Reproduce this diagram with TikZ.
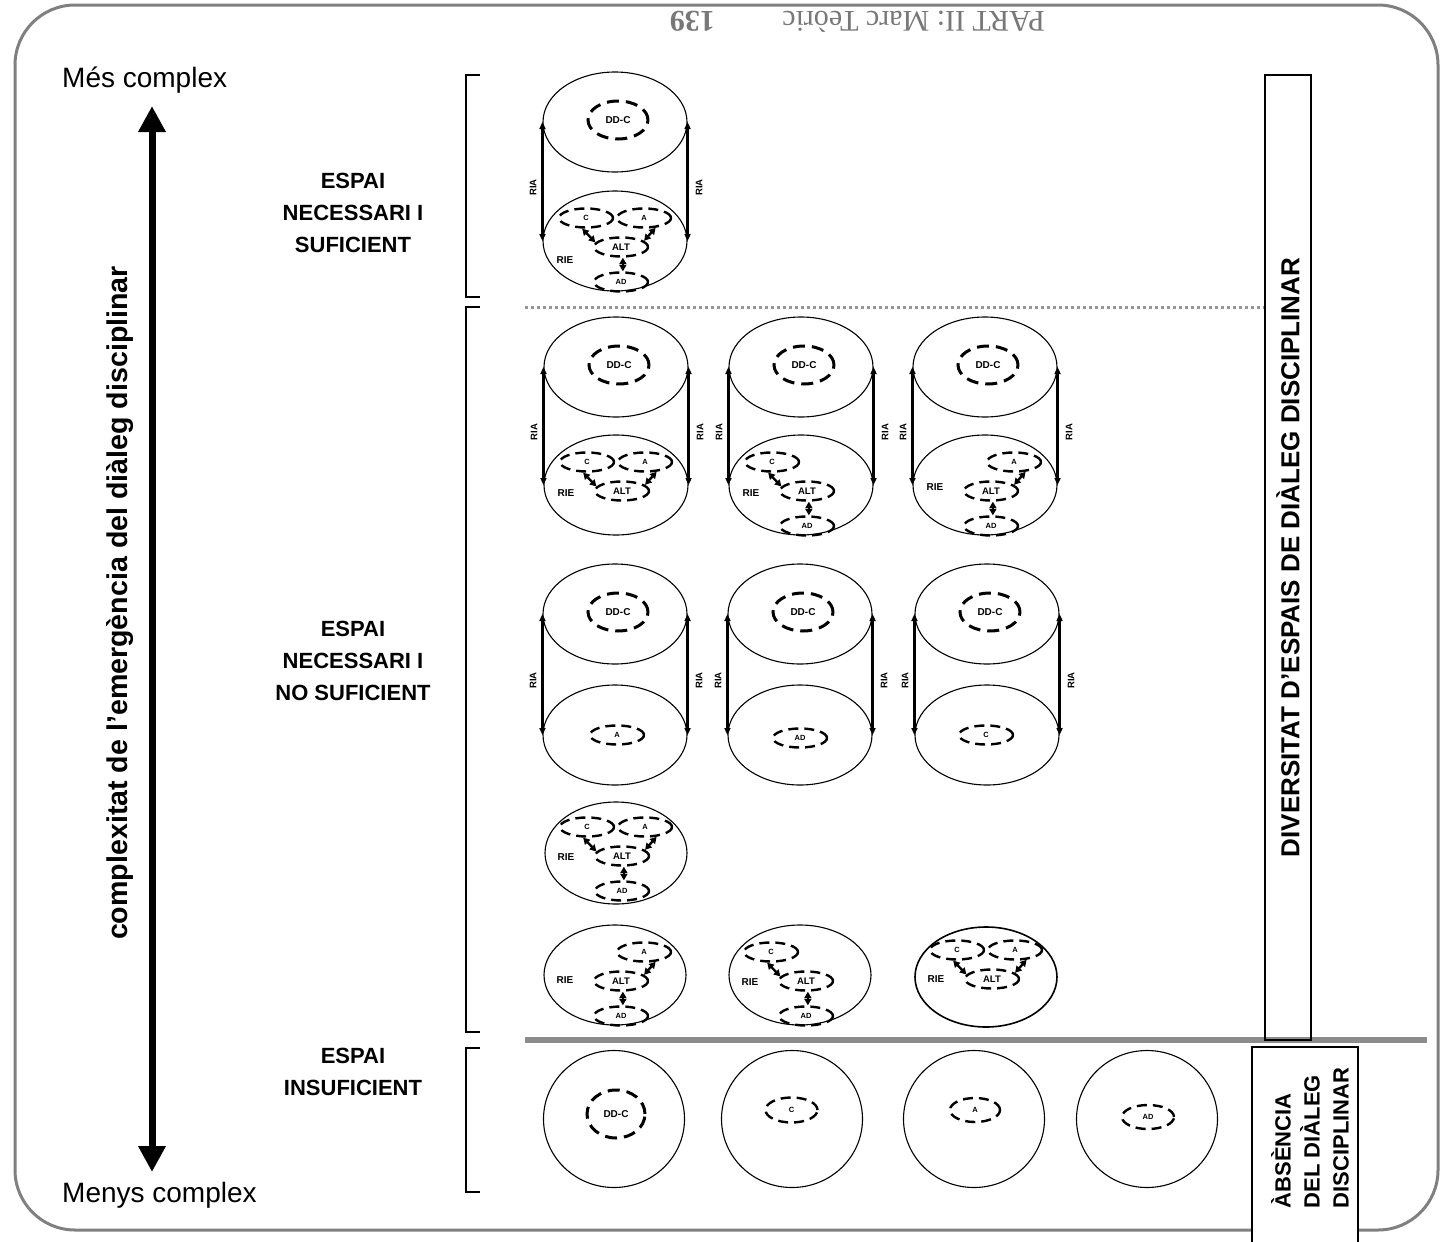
\documentclass[tikz,border=0pt]{standalone}
\usepackage{fontspec}
\setmainfont{Liberation Sans}
\newfontfamily\hdrfont{Liberation Serif}
\usetikzlibrary{shapes.geometric,arrows.meta}

\definecolor{framegray}{RGB}{128,128,128}
\definecolor{hdrgray}{RGB}{120,120,120}
\definecolor{dotgray}{RGB}{150,150,150}
\definecolor{bargray}{RGB}{140,140,140}

% cylinder: prefix, centre x, top ellipse y, bottom ellipse y
\newcommand{\cylinder}[4]{%
  \node[shell] (#1t) at (#2,#3) {};
  \node[shell] (#1b) at (#2,#4) {};
  \node[ddc] (#1d) at (#2+3,#3-2) {DD-C};
  \draw[riaarr] (#1t.west) -- (#1b.west);
  \draw[riaarr] (#1t.east) -- (#1b.east);
  \node[rialbl] (#1l) at (#2-82,{(#3+#4)/2+6}) {RIA};
  \node[rialbl] (#1r) at (#2+84,{(#3+#4)/2+6}) {RIA};
}
% inner structure pieces, placed relative to the current scope origin
\newcommand{\mkC}[1]{\node[subell] (#1C) at (-29,-23) {C};}
\newcommand{\mkA}[1]{\node[subell] (#1A) at (29,-23) {A};}
\newcommand{\mkALT}[1]{\node[subell, font={\bfseries\fontsize{9.5}{11}\selectfont}] (#1L) at (6,6) {ALT};}
\newcommand{\mkAD}[1]{\node[subell] (#1D) at (6,41) {AD};}
\newcommand{\mkRIE}[2]{\node[rie] (#1R) at (-50,#2) {RIE};}
\newcommand{\lnC}[1]{\draw[duo] (#1C.-110) -- (#1L.170);}
\newcommand{\lnA}[1]{\draw[duo] (#1A.-40) -- (#1L.15);}
\newcommand{\lnD}[1]{\draw[duo] (#1L.-80) -- (#1D.80);}

\begin{document}
\begin{tikzpicture}[x=1pt,y=-1pt,
  shell/.style={ellipse, draw, line width=1.1, minimum width=144, minimum height=100, inner sep=0},
  ddc/.style={ellipse, draw, line width=3, dash pattern=on 12 off 7, minimum width=60, minimum height=38, inner sep=0, font={\bfseries\fontsize{10}{12}\selectfont}},
  subell/.style={ellipse, draw, line width=2.4, dash pattern=on 10 off 6, minimum width=54, minimum height=19, inner sep=0, font={\bfseries\fontsize{7.5}{9}\selectfont}},
  riaarr/.style={line width=2.2, {Triangle[length=7pt,width=6pt]}-{Triangle[length=7pt,width=6pt]}},
  duo/.style={line width=2.4, {Triangle[length=6.5pt,width=7pt]}-{Triangle[length=6.5pt,width=7pt]}},
  rialbl/.style={rotate=90, font={\bfseries\fontsize{9.5}{11}\selectfont}},
  rie/.style={font={\bfseries\fontsize{10}{12}\selectfont}},
  seclbl/.style={align=center, font={\bfseries\fontsize{22}{32}\selectfont}},
  bracket/.style={line width=1.8},
]
\useasboundingbox (0,0) rectangle (1441,1242);

% page frame and running head
\draw[framegray, line width=3, rounded corners=60] (15,5) rectangle (1438,1230);
\node[rotate=180, anchor=base west, text=hdrgray, inner sep=0,
      font={\hdrfont\fontsize{30}{36}\selectfont}] (hdr) at (1045,12) {PART II: Marc Teòric};
\node[rotate=180, anchor=base west, text=hdrgray, inner sep=0,
      font={\hdrfont\bfseries\fontsize{30}{36}\selectfont}] (pg) at (715,12) {139};

% complexity axis
\node[anchor=west, inner sep=0, font={\fontsize{28}{34}\selectfont}] (more) at (62,80) {Més complex};
\node[anchor=west, inner sep=0, font={\fontsize{28}{34}\selectfont}] (less) at (62,1195) {Menys complex};
\coordinate (axtop) at (152,106);
\coordinate (axbot) at (152,1172);
\draw[line width=7, {Triangle[length=26pt,width=26pt]}-{Triangle[length=26pt,width=26pt]}] (axbot) -- (axtop);
\node[rotate=90, font={\bfseries\fontsize{28.6}{34}\selectfont}] (axlbl) at (120,603)
  {complexitat de l’emergència del diàleg disciplinar};

% level labels and brackets
\node[seclbl] (s1) at (353,213) {ESPAI\\NECESSARI I\\SUFICIENT};
\node[seclbl] (s2) at (353,661) {ESPAI\\NECESSARI I\\NO SUFICIENT};
\node[seclbl] (s3) at (353,1072) {ESPAI\\INSUFICIENT};
\draw[bracket] (480,75) -- (466,75) -- (466,297) -- (480,297);
\draw[bracket] (480,307) -- (466,307) -- (466,1032) -- (480,1032);
\draw[bracket] (480,1048) -- (466,1048) -- (466,1192) -- (480,1192);

% separators
\draw[dotgray, line width=3, dash pattern=on 3 off 3] (525,307) -- (1265,307);
\draw[bargray, line width=6] (525,1040) -- (1427,1040);

% right-hand boxes
\node[draw, line width=2, rotate=90, minimum width=965, minimum height=46, inner sep=0,
      font={\bfseries\fontsize{26}{30}\selectfont}] (divbox) at (1288,557.5)
  {DIVERSITAT D’ESPAIS DE DIÀLEG DISCIPLINAR};
\fill[white] (1252,1047) rectangle (1358,1243);
\draw[line width=2] (1252,1243) -- (1252,1047) -- (1358,1047) -- (1358,1243);
\node[rotate=90, align=left, inner sep=0, font={\bfseries\fontsize{22}{29}\selectfont}] (absbox) at (1310,1138)
  {ÀBSÈNCIA\\DEL DIÀLEG\\DISCIPLINAR};

% necessary and sufficient space
\cylinder{a}{615}{122}{241}
\begin{scope}[shift={(615,241)}]
  \mkC{a}\mkA{a}\mkALT{a}\mkAD{a}\mkRIE{a}{19}
  \lnC{a}\lnA{a}\lnD{a}
\end{scope}

% necessary, not sufficient: cylinders with partial structure
\cylinder{b}{616}{367}{485}
\begin{scope}[shift={(616,485)}]
  \mkC{b}\mkA{b}\mkALT{b}\mkRIE{b}{8}
  \lnC{b}\lnA{b}
\end{scope}
\cylinder{c}{801}{367}{485}
\begin{scope}[shift={(801,485)}]
  \mkC{c}\mkALT{c}\mkAD{c}\mkRIE{c}{8}
  \lnC{c}\lnD{c}
\end{scope}
\cylinder{d}{985}{367}{485}
\begin{scope}[shift={(985,485)}]
  \mkA{d}\mkALT{d}\mkAD{d}\mkRIE{d}{2}
  \lnA{d}\lnD{d}
\end{scope}

% cylinders with a single actor
\cylinder{e}{615}{614}{735}
\node[subell] (eA) at (617,735) {A};
\cylinder{f}{800}{614}{735}
\node[subell] (fD) at (800,738) {AD};
\cylinder{g}{987}{614}{735}
\node[subell] (gC) at (986,735) {C};

% single internal spaces
\node[shell, minimum width=142, minimum height=102] (h) at (616,853) {};
\begin{scope}[shift={(616,850)}]
  \mkC{h}\mkA{h}\mkALT{h}\mkAD{h}\mkRIE{h}{7}
  \lnC{h}\lnA{h}\lnD{h}
\end{scope}

\node[shell, minimum width=142] (i) at (615,975) {};
\begin{scope}[shift={(615,975)}]
  \mkA{i}\mkALT{i}\mkAD{i}\mkRIE{i}{5}
  \lnA{i}\lnD{i}
\end{scope}
\node[shell, minimum width=142] (j) at (800,975) {};
\begin{scope}[shift={(800,975)}]
  \mkC{j}\mkALT{j}\mkAD{j}\mkRIE{j}{7}
  \lnC{j}\lnD{j}
\end{scope}
\node[shell, minimum width=142, line width=1.6] (k) at (986,977) {};
\begin{scope}[shift={(986,973)}]
  \mkC{k}\mkA{k}\mkALT{k}\mkRIE{k}{6}
  \lnC{k}\lnA{k}
\end{scope}

% insufficient space
\node[shell, minimum width=141, minimum height=137] (m1) at (614,1119) {};
\node[ddc, minimum width=58, minimum height=48] (m1d) at (616,1114) {DD-C};
\node[shell, minimum width=141, minimum height=137] (m2) at (792,1119) {};
\node[subell, minimum width=52, minimum height=25] (m2c) at (791.5,1110) {C};
\node[shell, minimum width=141, minimum height=137] (m3) at (974,1119) {};
\node[subell, minimum width=50, minimum height=24] (m3a) at (975,1110) {A};
\node[shell, minimum width=141, minimum height=137] (m4) at (1147,1119) {};
\node[subell, minimum width=52, minimum height=24] (m4d) at (1148,1117) {AD};

\end{tikzpicture}
\end{document}
